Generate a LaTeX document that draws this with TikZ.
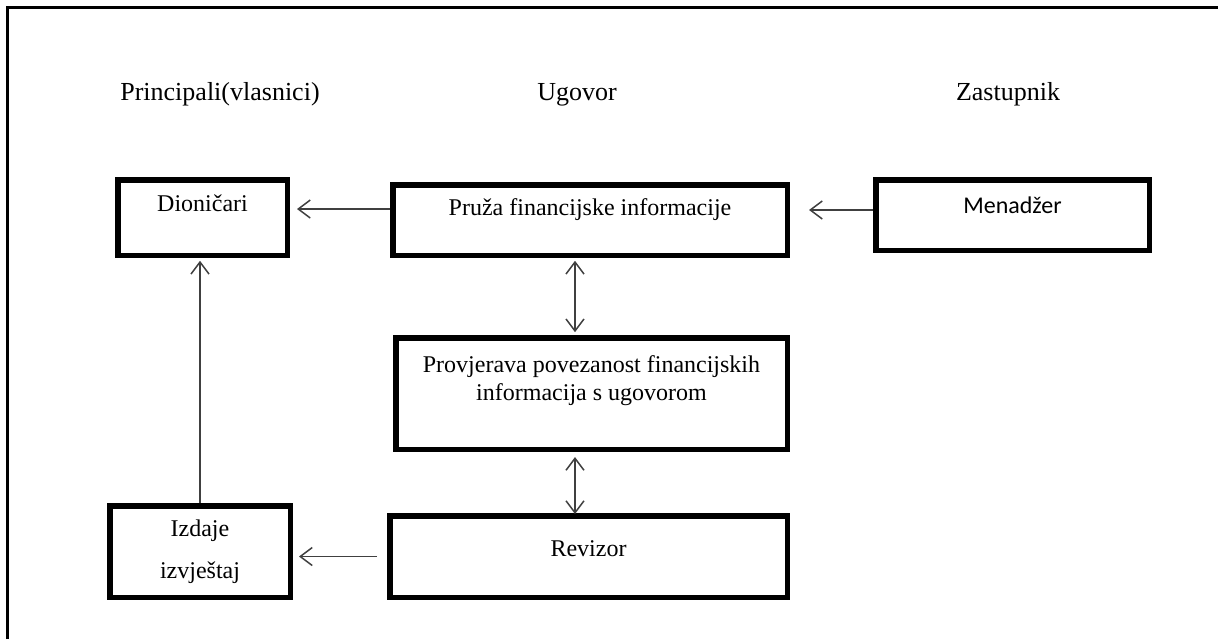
\documentclass[tikz,border=0pt]{standalone}
\usepackage{fontspec}
\setmainfont{Liberation Serif}
\newfontfamily\calfont{Carlito}
\usepackage{tikz}
\usetikzlibrary{arrows.meta}

\tikzset{
	box/.style={draw, line width=2.75pt, inner sep=3pt, align=center, font=\fontsize{12}{14}\selectfont},
	head/.style={anchor=base, font=\fontsize{13}{15}\selectfont},
	arr/.style={-{Straight Barb[length=6pt,width=9pt]}, line width=0.75pt, draw=black!75},
	dblarr/.style={{Straight Barb[length=6pt,width=9pt]}-{Straight Barb[length=6pt,width=9pt]}, line width=0.75pt, draw=black!75}
}

\begin{document}
\begin{tikzpicture}[x=0.5pt,y=-0.5pt]
		\useasboundingbox (0,0) rectangle (1218,639);
		\draw[line width=1.5pt] (7.5,639) -- (7.5,7.5) -- (1218,7.5);
		\node[head] (princ) at (220,100) {Principali(vlasnici)};
		\node[head] (ugovor) at (577,100) {Ugovor};
		\node[head] (zastup) at (1008,100) {Zastupnik};
		\node[box, minimum width=84.75pt, minimum height=37.75pt, text height=8pt, text depth=14.5pt] (dion) at (202.5,217.5) {Dioničari};
		\node[box, minimum width=197.25pt, minimum height=35.25pt, text height=8pt, text depth=13pt] (pruza) at (590,220) {Pruža financijske informacije};
		\node[box, minimum width=136.75pt, minimum height=35.25pt, text height=8pt, text depth=10pt, font=\calfont\fontsize{12}{14}\selectfont] (menad) at (1012.5,215) {Menadžer};
		\node[box, minimum width=195.75pt, minimum height=55.75pt, text height=22pt, text depth=15.5pt] (provj) at (591.5,393.5) {Provjerava povezanost financijskih\\informacija s ugovorom};
		\node[box, minimum width=198.75pt, minimum height=40.75pt, text height=8pt, text depth=8.5pt] (reviz) at (588.5,556.5) {Revizor};
		\node[box, minimum width=90.25pt, minimum height=45.75pt] (izdaje) at (200,551.5) {Izdaje\\[7pt]izvještaj};
		\coordinate (p1) at ([yshift=5.5pt]pruza.west);
		\coordinate (m1) at ([yshift=2.5pt]menad.west);
		\coordinate (d1) at ([xshift=-7.5pt]pruza.south);
		\draw[arr, shorten >=3.5pt] (p1) -- (p1 -| dion.east);
		\draw[arr, shorten >=9.5pt] (m1) -- (m1 -| pruza.east);
		\draw[dblarr, shorten <=1.4pt, shorten >=1.4pt] (d1) -- (d1 |- provj.north);
		\draw[dblarr, shorten <=-0.5pt, shorten >=-0.5pt] (d1 |- provj.south) ++(0,-3pt) -- (d1 |- reviz.north);
		\draw[arr, shorten <=5pt, shorten >=3pt] (reviz.west) -- (reviz.west -| izdaje.east);
		\draw[arr, shorten >=1.4pt] (izdaje.north) -- (izdaje.north |- dion.south);
	\end{tikzpicture}
\end{document}
